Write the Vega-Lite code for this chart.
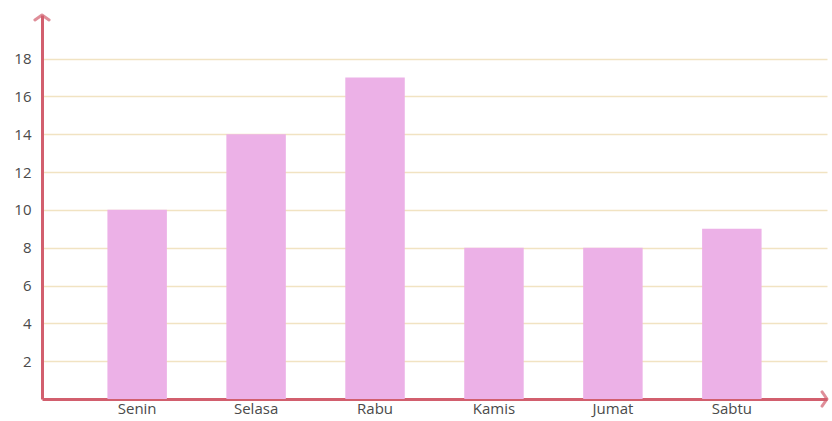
{
  "$schema": "https://vega.github.io/schema/vega-lite/v6.json",
  "width": 785,
  "height": 384,
  "autosize": {"type": "none"},
  "padding": {"left": 42, "top": 15, "right": 5, "bottom": 22},
  "background": "white",
  "config": {"view": {"stroke": null}},
  "resolve": {"scale": {"x": "independent"}},
  "layer": [
    {
      "data": {"values": [
        {"hari": "Senin", "nilai": 10},
        {"hari": "Selasa", "nilai": 14},
        {"hari": "Rabu", "nilai": 17},
        {"hari": "Kamis", "nilai": 8},
        {"hari": "Jumat", "nilai": 8},
        {"hari": "Sabtu", "nilai": 9}
      ]},
      "mark": {"type": "bar", "color": "#ecb1e7"},
      "encoding": {
        "x": {
          "field": "hari", "type": "nominal", "sort": null,
          "scale": {"paddingInner": 0.5, "paddingOuter": 0.55},
          "axis": {"title": null, "labelAngle": 0, "ticks": false, "domainColor": "#d25f6e", "domainWidth": 3, "labelColor": "#4a4a4a", "labelFontSize": 15, "labelFont": "Open Sans", "labelPadding": 2}
        },
        "y": {
          "field": "nilai", "type": "quantitative",
          "scale": {"domain": [0, 20.3], "nice": false},
          "axis": {"title": null, "values": [2, 4, 6, 8, 10, 12, 14, 16, 18], "ticks": false, "domainColor": "#d25f6e", "domainWidth": 3, "gridColor": "#f1e3c2", "gridWidth": 1.5, "labelColor": "#4a4a4a", "labelFontSize": 15, "labelFont": "Open Sans", "labelPadding": 11}
        }
      }
    },
    {
      "data": {"values": [{}]},
      "mark": {"type": "point", "shape": "M -1 0.7 L 0 0 L 1 0.7", "filled": false, "stroke": "#d25f6e", "strokeWidth": 3, "size": 200, "strokeCap": "round", "strokeJoin": "round"},
      "encoding": {
        "x": {"datum": 0, "type": "quantitative", "scale": {"domain": [0, 1]}, "axis": null},
        "y": {"datum": 20.3, "type": "quantitative"}
      }
    },
    {
      "data": {"values": [{}]},
      "mark": {"type": "point", "shape": "M -0.7 -1 L 0 0 L -0.7 1", "filled": false, "stroke": "#d25f6e", "strokeWidth": 3, "size": 200, "strokeCap": "round", "strokeJoin": "round"},
      "encoding": {
        "x": {"datum": 1, "type": "quantitative", "scale": {"domain": [0, 1]}, "axis": null},
        "y": {"datum": 0, "type": "quantitative"}
      }
    }
  ]
}
